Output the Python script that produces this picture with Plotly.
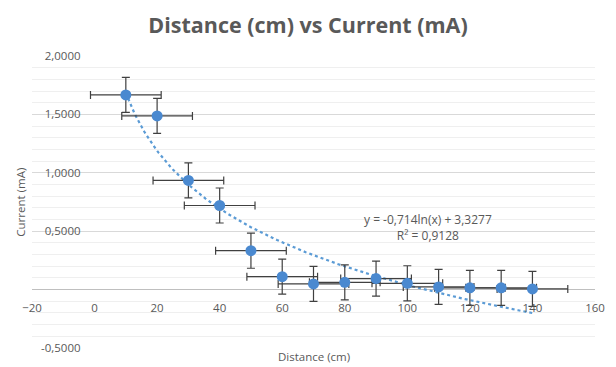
import numpy as np
import plotly.graph_objects as go

# ---- data ----
distance_cm = [10, 20, 30, 40, 50, 60, 70, 80, 90, 100, 110, 120, 130, 140]
current_mA = [1.667, 1.487, 0.935, 0.72, 0.333, 0.111, 0.049, 0.062, 0.094, 0.054, 0.023, 0.015, 0.015, 0.006]
x_error = [11.3] * len(distance_cm)
y_error = [0.15] * len(distance_cm)

# logarithmic trendline coefficients printed on the chart
trend_slope = -0.714
trend_intercept = 3.3277
trend_label = "y = -0,714ln(x) + 3,3277<br>R² = 0,9128"

x_ticks = [-20, 0, 20, 40, 60, 80, 100, 120, 140, 160]
y_ticks = [-0.5, 0.0, 0.5, 1.0, 1.5, 2.0]
y_tick_text = ["-0,5000", "", "0,5000", "1,0000", "1,5000", "2,0000"]

title = "Distance (cm) vs Current (mA)"
x_title = "Distance (cm)"
y_title = "Current (mA)"

X_RANGE = [-20, 160]
Y_RANGE = [-0.5, 2.0]

grey = "#595959"
blue = "#4A89D0"
font_family = "Open Sans, Noto Sans, sans-serif"

trend_x = np.linspace(min(distance_cm), max(distance_cm), 200)
trend_y = trend_slope * np.log(trend_x) + trend_intercept

fig = go.Figure()

fig.add_trace(go.Scatter(
    x=trend_x, y=trend_y, mode="lines",
    line=dict(color="#5B9BD5", width=2.2, dash="dot"),
    hoverinfo="skip", showlegend=False,
))

fig.add_trace(go.Scatter(
    x=distance_cm, y=current_mA, mode="markers",
    marker=dict(color=blue, size=11),
    error_x=dict(type="data", array=x_error, visible=True, color="#404040", thickness=1.2, width=4),
    error_y=dict(type="data", array=y_error, visible=True, color="#404040", thickness=1.2, width=4),
    showlegend=False,
))

y_zero_pos = (0 - Y_RANGE[0]) / (Y_RANGE[1] - Y_RANGE[0])
x_zero_pos = (0 - X_RANGE[0]) / (X_RANGE[1] - X_RANGE[0])

fig.update_layout(
    width=616, height=367,
    margin=dict(l=32, r=21, t=56, b=19, autoexpand=False),
    paper_bgcolor="white", plot_bgcolor="white",
    font=dict(family=font_family, color=grey, size=11),
    title=dict(text="<b>" + title + "</b>", x=0.5, xanchor="center", y=0.93, yanchor="middle",
               font=dict(size=21.5, color=grey, family=font_family)),
    xaxis=dict(
        range=X_RANGE, tickmode="array", tickvals=x_ticks,
        showgrid=False, zeroline=False, showline=False,
        anchor="free", position=y_zero_pos, automargin=False,
        ticks="", tickfont=dict(size=11.5, color=grey),
        ticklabelstandoff=10,
    ),
    yaxis=dict(
        range=Y_RANGE, tickmode="array", tickvals=y_ticks, ticktext=y_tick_text,
        showgrid=True, gridcolor="#D9D9D9", gridwidth=1,
        minor=dict(dtick=0.1, showgrid=True, gridcolor="#EFEFEF", gridwidth=1),
        zeroline=True, zerolinecolor="#BFBFBF", zerolinewidth=1,
        showline=False, anchor="free", position=x_zero_pos, automargin=False,
        ticks="", tickfont=dict(size=11.5, color=grey),
        ticklabelstandoff=14,
    ),
    annotations=[
        dict(text=trend_label, x=106.6, y=0.53, xref="x", yref="y", showarrow=False,
             font=dict(size=12, color=grey), align="center"),
        dict(text=x_title, x=0.5, y=-0.03, xref="paper", yref="paper", showarrow=False,
             font=dict(size=11.5, color=grey), yanchor="middle"),
        dict(text=y_title, x=-0.005, y=0.5, xref="paper", yref="paper", showarrow=False,
             textangle=-90, font=dict(size=11.5, color=grey), xanchor="right"),
    ],
)

fig.write_html("out.html", post_script="document.body.style.margin='0';",
               config={"displayModeBar": False})
